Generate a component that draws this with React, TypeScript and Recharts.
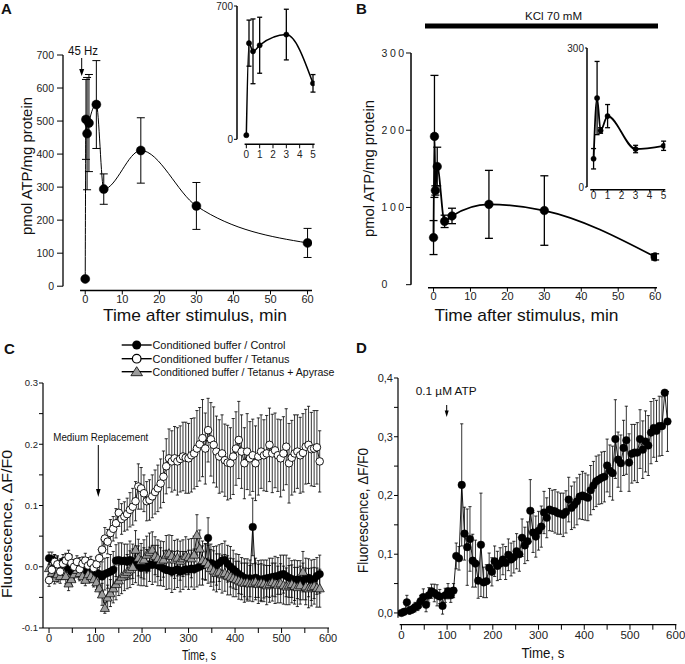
import React from "react";
import { LineChart, Line, XAxis, YAxis, ErrorBar, ReferenceLine } from "recharts";

const SANS = "'Liberation Sans', Arial, Helvetica, sans-serif";
const NARROW = "'Liberation Sans Narrow', 'Arial Narrow', 'Liberation Sans', sans-serif";

// ---- panel A: 45 Hz stimulation ----
const minutesA = [0, 0.2, 0.5, 1, 3, 5, 15, 30, 60];
const atpTetanus = [22, 505, 462, 494, 550, 294, 411, 243, 131];
const atpTetanusSem = [0, 121, 170, 147, 133, 46, 99, 71, 44];

// ---- panel B: KCl 70 mM ----
const minutesB = [0, 0.25, 0.5, 1, 3, 5, 15, 30, 60];
const atpKcl = [61, 192, 122, 153, 82, 89, 104, 96, 36];
const atpKclSem = [22, 79, 6, 25, 8, 10, 44, 45, 4];

const ticksA = [0, 100, 200, 300, 400, 500, 600, 700];
const ticksB = [0, 100, 200, 300];
const minuteTicks = [0, 10, 20, 30, 40, 50, 60];
const insetTicks = [0, 1, 2, 3, 4, 5];

// ---- panel C: conditioned buffer, sampled every 6 s ----
const SAMPLE_S = 6;
const control = [
  0.014, 0.012, 0.009, 0.005, 0.003, 0.008, -0.002, 0.002, -0.008, -0.010,
  -0.004, 0.003, -0.002, -0.006, 0.000, -0.004, -0.008, -0.010, -0.012, -0.016,
  -0.012, -0.010, -0.008, -0.005, 0.010, 0.011, 0.009, 0.010, 0.008, 0.011,
  0.009, 0.004, 0.002, -0.002, 0.000, -0.002, 0.004, 0.003, 0.005, 0.002,
  0.000, -0.003, -0.005, -0.006, -0.008, -0.006, -0.004, -0.008, -0.006, -0.004,
  -0.005, -0.003, -0.004, -0.002, 0.000, 0.002, 0.008, 0.047, 0.006, 0.004,
  0.002, 0.006, 0.010, 0.011, 0.005, 0.000, -0.004, -0.008, -0.012, -0.015,
  -0.018, -0.020, -0.019, 0.065, -0.018, -0.020, -0.022, -0.020, -0.019, -0.018,
  -0.017, -0.016, -0.015, -0.013, -0.012, -0.015, -0.018, -0.020, -0.022, -0.021,
  -0.022, -0.024, -0.020, -0.018, -0.022, -0.020, -0.015, -0.012,
];
const controlSem = [
  0.010, 0.012, 0.011, 0.013, 0.010, 0.012, 0.014, 0.011, 0.012, 0.013,
  0.010, 0.012, 0.011, 0.013, 0.012, 0.010, 0.014, 0.012, 0.020, 0.024,
  0.026, 0.025, 0.028, 0.030, 0.026, 0.028, 0.030, 0.027, 0.029, 0.031,
  0.028, 0.030, 0.032, 0.029, 0.031, 0.030, 0.028, 0.032, 0.030, 0.033,
  0.031, 0.029, 0.032, 0.030, 0.034, 0.031, 0.030, 0.033, 0.031, 0.029,
  0.032, 0.030, 0.033, 0.031, 0.030, 0.032, 0.030, 0.033, 0.031, 0.029,
  0.032, 0.030, 0.028, 0.031, 0.030, 0.033, 0.031, 0.029, 0.032, 0.030,
  0.031, 0.033, 0.030, 0.047, 0.032, 0.030, 0.033, 0.031, 0.030, 0.032,
  0.031, 0.033, 0.030, 0.032, 0.031, 0.034, 0.032, 0.030, 0.033, 0.031,
  0.032, 0.030, 0.034, 0.031, 0.033, 0.032, 0.030, 0.031,
];
const tetanus = [
  -0.022, -0.005, 0.008, 0.004, -0.008, 0.005, 0.010, 0.016, 0.006, 0.000,
  0.008, -0.004, 0.005, 0.010, 0.002, 0.006, -0.002, 0.004, 0.014, 0.028,
  0.046, 0.041, 0.055, 0.062, 0.071, 0.088, 0.078, 0.082, 0.086, 0.093,
  0.098, 0.107, 0.131, 0.128, 0.120, 0.107, 0.109, 0.115, 0.122, 0.128,
  0.136, 0.147, 0.164, 0.177, 0.172, 0.177, 0.172, 0.176, 0.180, 0.178,
  0.177, 0.182, 0.185, 0.193, 0.200, 0.210, 0.193, 0.223, 0.208, 0.199,
  0.188, 0.180, 0.185, 0.174, 0.170, 0.169, 0.180, 0.193, 0.207, 0.188,
  0.169, 0.188, 0.177, 0.182, 0.169, 0.180, 0.188, 0.182, 0.185, 0.199,
  0.185, 0.190, 0.182, 0.177, 0.185, 0.196, 0.169, 0.178, 0.185, 0.188,
  0.182, 0.186, 0.196, 0.199, 0.192, 0.193, 0.195, 0.172,
];
const tetanusSem = [
  0.010, 0.012, 0.011, 0.012, 0.013, 0.010, 0.012, 0.011, 0.013, 0.012,
  0.010, 0.012, 0.011, 0.012, 0.013, 0.011, 0.012, 0.012, 0.014, 0.016,
  0.018, 0.020, 0.022, 0.020, 0.024, 0.022, 0.025, 0.024, 0.026, 0.028,
  0.030, 0.032, 0.037, 0.034, 0.030, 0.032, 0.033, 0.035, 0.036, 0.038,
  0.040, 0.042, 0.045, 0.048, 0.050, 0.052, 0.055, 0.054, 0.056, 0.058,
  0.057, 0.060, 0.058, 0.062, 0.060, 0.063, 0.058, 0.052, 0.060, 0.062,
  0.058, 0.060, 0.063, 0.059, 0.061, 0.058, 0.062, 0.060, 0.063, 0.060,
  0.058, 0.062, 0.060, 0.059, 0.061, 0.063, 0.060, 0.058, 0.062, 0.060,
  0.064, 0.061, 0.059, 0.063, 0.060, 0.062, 0.065, 0.061, 0.063, 0.060,
  0.062, 0.064, 0.061, 0.063, 0.060, 0.062, 0.060, 0.050,
];
const apyrase = [
  -0.002, -0.010, -0.018, -0.012, -0.015, -0.008, -0.015, -0.027, -0.020, -0.012,
  -0.005, -0.010, -0.015, -0.021, -0.012, -0.015, -0.020, -0.025, -0.035, -0.045,
  -0.067, -0.050, -0.043, -0.035, -0.028, -0.022, -0.016, -0.012, -0.008, -0.004,
  0.000, 0.028, 0.015, 0.010, 0.012, 0.020, 0.024, 0.028, 0.018, 0.014,
  0.010, 0.012, 0.020, 0.022, 0.018, 0.012, 0.015, 0.010, 0.014, 0.018,
  0.016, 0.014, 0.020, 0.052, 0.030, 0.011, 0.008, 0.004, -0.002, -0.006,
  -0.010, -0.008, -0.012, -0.010, -0.014, -0.016, -0.018, -0.020, -0.022, -0.024,
  -0.026, -0.025, -0.027, -0.026, -0.024, -0.028, -0.026, -0.027, -0.030, -0.028,
  -0.025, -0.027, -0.029, -0.027, -0.030, -0.032, -0.030, -0.028, -0.031, -0.033,
  -0.030, -0.008, -0.032, -0.035, -0.033, -0.031, -0.034, -0.035,
];
const apyraseSem = [
  0.011, 0.012, 0.010, 0.013, 0.012, 0.011, 0.013, 0.012, 0.010, 0.012,
  0.011, 0.013, 0.012, 0.010, 0.012, 0.011, 0.013, 0.012, 0.015, 0.018,
  0.009, 0.020, 0.022, 0.024, 0.026, 0.025, 0.028, 0.027, 0.028, 0.030,
  0.029, 0.031, 0.030, 0.028, 0.032, 0.030, 0.031, 0.029, 0.031, 0.030,
  0.032, 0.029, 0.031, 0.030, 0.033, 0.031, 0.030, 0.032, 0.030, 0.031,
  0.029, 0.032, 0.030, 0.033, 0.030, 0.031, 0.029, 0.031, 0.030, 0.032,
  0.031, 0.029, 0.031, 0.030, 0.032, 0.030, 0.031, 0.029, 0.031, 0.030,
  0.032, 0.031, 0.029, 0.031, 0.030, 0.032, 0.031, 0.030, 0.032, 0.030,
  0.031, 0.033, 0.030, 0.032, 0.031, 0.030, 0.032, 0.031, 0.030, 0.032,
  0.031, 0.033, 0.030, 0.032, 0.031, 0.030, 0.032, 0.031,
];

// ---- panel D: 0.1 uM ATP ----
const atpResponse = [
  0.000, 0.002, 0.018, 0.004, 0.006, 0.010, 0.012, 0.020, 0.027, 0.014,
  0.030, 0.037, 0.034, 0.030, 0.028, 0.012, 0.030, 0.037, 0.030, 0.038,
  0.097, 0.093, 0.218, 0.135, 0.112, 0.126, 0.089, 0.084, 0.055, 0.116,
  0.052, 0.054, 0.077, 0.070, 0.088, 0.080, 0.084, 0.091, 0.085, 0.099,
  0.091, 0.095, 0.105, 0.100, 0.128, 0.115, 0.122, 0.174, 0.137, 0.130,
  0.140, 0.147, 0.171, 0.162, 0.176, 0.174, 0.173, 0.170, 0.169, 0.167,
  0.172, 0.193, 0.179, 0.184, 0.190, 0.198, 0.200, 0.198, 0.196, 0.209,
  0.217, 0.224, 0.227, 0.230, 0.232, 0.251, 0.242, 0.238, 0.296, 0.261,
  0.255, 0.281, 0.294, 0.256, 0.271, 0.273, 0.273, 0.296, 0.278, 0.292,
  0.285, 0.307, 0.315, 0.310, 0.318, 0.318, 0.375, 0.326,
];
const atpResponseSem = [
  0.004, 0.005, 0.012, 0.006, 0.006, 0.008, 0.008, 0.010, 0.014, 0.012,
  0.013, 0.012, 0.015, 0.018, 0.012, 0.014, 0.012, 0.013, 0.012, 0.012,
  0.022, 0.020, 0.104, 0.045, 0.065, 0.055, 0.045, 0.040, 0.030, 0.088,
  0.026, 0.028, 0.025, 0.024, 0.026, 0.025, 0.027, 0.026, 0.028, 0.027,
  0.028, 0.027, 0.030, 0.029, 0.032, 0.031, 0.033, 0.053, 0.034, 0.035,
  0.033, 0.035, 0.036, 0.034, 0.036, 0.035, 0.037, 0.036, 0.035, 0.037,
  0.036, 0.038, 0.037, 0.039, 0.040, 0.038, 0.041, 0.040, 0.039, 0.042,
  0.041, 0.043, 0.042, 0.044, 0.043, 0.045, 0.044, 0.046, 0.067, 0.047,
  0.048, 0.047, 0.058, 0.049, 0.050, 0.048, 0.051, 0.050, 0.049, 0.052,
  0.051, 0.053, 0.050, 0.052, 0.051, 0.050, 0.005, 0.051,
];

const secondTicks = [0, 50, 100, 150, 200, 250, 300, 350, 400, 450, 500, 550, 600];
const ticksC = [-0.1, -0.05, 0, 0.05, 0.1, 0.15, 0.2, 0.25, 0.3];
const ticksD = [0, 0.05, 0.1, 0.15, 0.2, 0.25, 0.3, 0.35, 0.4];
const legendLabels = [
  "Conditioned buffer / Control",
  "Conditioned buffer / Tetanus",
  "Conditioned buffer / Tetanus + Apyrase",
];

const dataA = minutesA.map((t, i) => ({ t, v: atpTetanus[i], e: atpTetanusSem[i] }));
const dataB = minutesB.map((t, i) => ({ t, v: atpKcl[i], e: atpKclSem[i] }));
const seconds = control.map((_, i) => i * SAMPLE_S);
const dataC = seconds.map((t, i) => ({
  t,
  ctrl: control[i], ctrlE: controlSem[i],
  tet: tetanus[i], tetE: tetanusSem[i],
  apy: apyrase[i], apyE: apyraseSem[i],
}));
const dataD = seconds.map((t, i) => ({ t, v: atpResponse[i], e: atpResponseSem[i] }));

const hundreds = (v: number) => (v % 100 === 0 ? String(v) : "");
const tenthsDot = (v: number) =>
  Math.abs(v * 10 - Math.round(v * 10)) < 1e-6 ? v.toFixed(1) : "";
const tenthsComma = (v: number) =>
  Math.abs(v * 10 - Math.round(v * 10)) < 1e-6 ? v.toFixed(1).replace(".", ",") : "";

const Triangle = (p: any) => {
  const { cx, cy } = p;
  if (cx == null || cy == null) return <g key={`tri-${p.index}`} />;
  const s = 4.6;
  return (
    <path
      key={`tri-${p.index}`}
      d={`M${cx},${cy - s} L${cx + s},${cy + s * 0.8} L${cx - s},${cy + s * 0.8} Z`}
      fill="#9c9c9c"
      stroke="#000"
      strokeWidth={0.7}
    />
  );
};

const spacedTick = (p: any) => (
  <text x={p.x - 22.5} y={p.y} dy={3.8} textAnchor="start" fontSize={10.5} letterSpacing={2.6} fill="#222" fontFamily={SANS}>
    {p.payload.value}
  </text>
);

type FrameProps = {
  left: number; top: number; w: number; h: number;
  data: any[];
  xDomain: [number, number]; yDomain: [number, number];
  xTicks: number[]; yTicks: number[];
  xLine: [number, number]; yLine: [number, number];
  xTick: any; yTick: any;
  xFmt?: (v: number) => string; yFmt?: (v: number) => string;
  xSize: number; xMargin: number; ySize: number; yMargin: number;
  axisWidth?: number;
  children: React.ReactNode;
};

function Frame(p: FrameProps) {
  const pad = 60;
  const sw = p.axisWidth ?? 1.3;
  return (
    <div style={{ position: "absolute", left: p.left - pad, top: p.top - 10 }}>
      <LineChart width={p.w + pad + 10} height={p.h + 50} data={p.data} margin={{ top: 10, right: 10, bottom: 0, left: 0 }}>
        <XAxis
          type="number" dataKey="t" domain={p.xDomain} allowDataOverflow ticks={p.xTicks} interval={0}
          axisLine={false} tickLine={{ stroke: "#000", strokeWidth: 1 }} tickSize={p.xSize} tickMargin={p.xMargin}
          tick={p.xTick} tickFormatter={p.xFmt} height={40}
        />
        <YAxis
          type="number" domain={p.yDomain} allowDataOverflow ticks={p.yTicks} interval={0}
          axisLine={false} tickLine={{ stroke: "#000", strokeWidth: 1 }} tickSize={p.ySize} tickMargin={p.yMargin}
          tick={p.yTick} tickFormatter={p.yFmt} width={pad}
        />
        <ReferenceLine
          segment={[{ x: p.xLine[0], y: p.yDomain[0] }, { x: p.xLine[1], y: p.yDomain[0] }]}
          stroke="#000" strokeWidth={sw} ifOverflow="visible"
        />
        <ReferenceLine
          segment={[{ x: p.xDomain[0], y: p.yLine[0] }, { x: p.xDomain[0], y: p.yLine[1] }]}
          stroke="#000" strokeWidth={sw} ifOverflow="visible"
        />
        {p.children}
      </LineChart>
    </div>
  );
}

const tickSans = (size: number) => ({ fontSize: size, fill: "#222", fontFamily: SANS });
const tickNarrow = (size: number) => ({ fontSize: size, fill: "#222", fontFamily: NARROW });

export default function App() {
  return (
    <div style={{ position: "absolute", left: 0, top: 0, width: 685, height: 664, background: "#fff", overflow: "hidden" }}>
      {/* A main */}
      <Frame
        left={63} top={54.5} w={249} h={235.5} data={dataA}
        xDomain={[-6, 61.2]} yDomain={[-13, 700]} xTicks={minuteTicks} yTicks={ticksA}
        xLine={[-1.4, 61.2]} yLine={[0, 700]}
        xTick={tickSans(11)} yTick={tickSans(10.5)} xSize={4} xMargin={1} ySize={6} yMargin={3}
      >
        <Line dataKey="v" type="monotone" stroke="#000" strokeWidth={1} dot={{ r: 4.5, fill: "#000", stroke: "#000", strokeWidth: 0.5 }} isAnimationActive={false}>
          <ErrorBar dataKey="e" width={4} stroke="#000" strokeWidth={1} direction="y" isAnimationActive={false} />
        </Line>
      </Frame>
      {/* A inset */}
      <Frame
        left={237.3} top={5.7} w={77.6} h={138.3} data={dataA.filter((d) => d.t <= 5)}
        xDomain={[-0.7, 5.12]} yDomain={[-26, 700]} xTicks={insetTicks} yTicks={[0, 700]}
        xLine={[-0.13, 5.12]} yLine={[0, 700]} axisWidth={1.5}
        xTick={tickSans(10)} yTick={tickSans(10)} xSize={4} xMargin={3} ySize={3} yMargin={1}
      >
        <Line dataKey="v" type="monotone" stroke="#000" strokeWidth={1.5} dot={{ r: 2.6, fill: "#000", stroke: "#000", strokeWidth: 0.5 }} isAnimationActive={false}>
          <ErrorBar dataKey="e" width={2.5} stroke="#000" strokeWidth={1.3} direction="y" isAnimationActive={false} />
        </Line>
      </Frame>
      {/* B main */}
      <Frame
        left={410.7} top={53.3} w={246} h={234.7} data={dataB}
        xDomain={[-6.1, 60.5]} yDomain={[-3.9, 300]} xTicks={minuteTicks} yTicks={ticksB}
        xLine={[-1.5, 60.5]} yLine={[0, 300]} axisWidth={1.5}
        xTick={tickSans(11)} yTick={spacedTick} xSize={4} xMargin={1} ySize={5} yMargin={2}
      >
        <Line dataKey="v" type="monotone" stroke="#000" strokeWidth={1.8} dot={{ r: 4.3, fill: "#000", stroke: "#000", strokeWidth: 0.5 }} isAnimationActive={false}>
          <ErrorBar dataKey="e" width={4} stroke="#000" strokeWidth={1.3} direction="y" isAnimationActive={false} />
        </Line>
      </Frame>
      {/* B inset */}
      <Frame
        left={586.7} top={47.7} w={78.3} h={141.8} data={dataB.filter((d) => d.t <= 5)}
        xDomain={[-0.47, 5.12]} yDomain={[-6, 300]} xTicks={insetTicks} yTicks={[0, 300]}
        xLine={[-0.24, 5.12]} yLine={[0, 300]} axisWidth={1.5}
        xTick={tickSans(10)} yTick={tickSans(10)} xSize={2} xMargin={0} ySize={2} yMargin={1}
      >
        <Line dataKey="v" type="monotone" stroke="#000" strokeWidth={1.8} dot={{ r: 2.6, fill: "#000", stroke: "#000", strokeWidth: 0.5 }} isAnimationActive={false}>
          <ErrorBar dataKey="e" width={2.5} stroke="#000" strokeWidth={1.3} direction="y" isAnimationActive={false} />
        </Line>
      </Frame>
      {/* C */}
      <Frame
        left={43.3} top={383.3} w={286} h={245} data={dataC}
        xDomain={[-13, 602]} yDomain={[-0.1, 0.3]} xTicks={secondTicks} yTicks={ticksC}
        xLine={[-13, 602]} yLine={[-0.1, 0.3]} axisWidth={1.2}
        xTick={tickNarrow(11)} yTick={tickNarrow(9.5)} xFmt={hundreds} yFmt={tenthsDot}
        xSize={5} xMargin={1} ySize={4} yMargin={1}
      >
        <Line dataKey="ctrl" type="linear" stroke="#000" strokeWidth={0.9} dot={{ r: 3.8, fill: "#000", stroke: "#000", strokeWidth: 0.5 }} isAnimationActive={false}>
          <ErrorBar dataKey="ctrlE" width={1.6} stroke="#000" strokeWidth={0.8} direction="y" isAnimationActive={false} />
        </Line>
        <Line dataKey="apy" type="linear" stroke="#000" strokeWidth={0.9} dot={(p: any) => <Triangle key={`tri-${p.index}`} {...p} />} isAnimationActive={false}>
          <ErrorBar dataKey="apyE" width={1.6} stroke="#000" strokeWidth={0.8} direction="y" isAnimationActive={false} />
        </Line>
        <Line dataKey="tet" type="linear" stroke="#000" strokeWidth={0.9} dot={{ r: 3.8, fill: "#fff", stroke: "#000", strokeWidth: 0.9 }} isAnimationActive={false}>
          <ErrorBar dataKey="tetE" width={1.6} stroke="#000" strokeWidth={0.8} direction="y" isAnimationActive={false} />
        </Line>
      </Frame>
      {/* D */}
      <Frame
        left={398.3} top={378.3} w={278.4} h={246.7} data={dataD}
        xDomain={[-7.4, 601.5]} yDomain={[-0.02, 0.4]} xTicks={secondTicks} yTicks={ticksD}
        xLine={[-3.7, 601.5]} yLine={[-0.008, 0.4]} axisWidth={1.2}
        xTick={tickNarrow(11.5)} yTick={tickSans(11)} xFmt={hundreds} yFmt={tenthsComma}
        xSize={5} xMargin={1} ySize={4} yMargin={1}
      >
        <Line dataKey="v" type="linear" stroke="#000" strokeWidth={0.9} dot={{ r: 3.8, fill: "#000", stroke: "#000", strokeWidth: 0.5 }} isAnimationActive={false}>
          <ErrorBar dataKey="e" width={1.6} stroke="#000" strokeWidth={0.8} direction="y" isAnimationActive={false} />
        </Line>
      </Frame>

      {/* titles, annotations, legend */}
      <svg width={685} height={664} style={{ position: "absolute", left: 0, top: 0, pointerEvents: "none" }} fontFamily={SANS} fill="#111">
        <text x={1} y={14} fontSize={15} fontWeight="bold">A</text>
        <text x={356} y={14} fontSize={15} fontWeight="bold">B</text>
        <text x={4} y={354} fontSize={15} fontWeight="bold">C</text>
        <text x={356} y={353} fontSize={15} fontWeight="bold">D</text>

        <text x={68} y={55} fontSize={12} textLength={30} lengthAdjust="spacingAndGlyphs">45 Hz</text>
        <line x1={81.7} y1={58} x2={81.7} y2={70} stroke="#000" strokeWidth={1} />
        <path d="M79.2,69 L84.2,69 L81.7,76 Z" fill="#000" />
        <text x={195} y={321} textAnchor="middle" fontSize={17} textLength={184} lengthAdjust="spacingAndGlyphs">Time after stimulus, min</text>
        <text transform="translate(26.5,166) rotate(-90)" textAnchor="middle" dominantBaseline="central" fontSize={14.5} textLength={138} lengthAdjust="spacingAndGlyphs">pmol ATP/mg protein</text>

        <text x={553.5} y={20} textAnchor="middle" fontSize={11} textLength={57} lengthAdjust="spacingAndGlyphs">KCl 70 mM</text>
        <rect x={425} y={23.5} width={233} height={5} fill="#000" />
        <text x={526.5} y={321} textAnchor="middle" fontSize={17} textLength={184} lengthAdjust="spacingAndGlyphs">Time after stimulus, min</text>
        <text transform="translate(369,168.5) rotate(-90)" textAnchor="middle" dominantBaseline="central" fontSize={14.5} textLength={137} lengthAdjust="spacingAndGlyphs">pmol ATP/mg protein</text>

        {legendLabels.map((label, i) => {
          const y = [345, 358.7, 371.7][i];
          return (
            <g key={label}>
              <line x1={121.7} y1={y} x2={151.7} y2={y} stroke="#000" strokeWidth={1.4} />
              {i === 0 && <circle cx={136.7} cy={y} r={4.5} fill="#000" />}
              {i === 1 && <circle cx={136.7} cy={y} r={4.3} fill="#fff" stroke="#000" strokeWidth={1.2} />}
              {i === 2 && <path d={`M136.7,${y - 5} L142.5,${y + 4} L130.9,${y + 4} Z`} fill="#9c9c9c" stroke="#000" strokeWidth={0.8} />}
              <text x={152.5} y={y + 4} fontSize={11.5} textLength={[133, 137, 182][i]} lengthAdjust="spacingAndGlyphs">{label}</text>
            </g>
          );
        })}
        <text x={53.3} y={441} fontSize={11.5} textLength={95} lengthAdjust="spacingAndGlyphs">Medium Replacement</text>
        <line x1={98.3} y1={445} x2={98.3} y2={490} stroke="#000" strokeWidth={1} />
        <path d="M96,489 L100.6,489 L98.3,497 Z" fill="#000" />
        <text x={199} y={660} textAnchor="middle" fontSize={14} textLength={34} lengthAdjust="spacingAndGlyphs">Time, s</text>
        <text transform="translate(6.5,524) rotate(-90)" textAnchor="middle" dominantBaseline="central" fontSize={14.5} textLength={148} lengthAdjust="spacingAndGlyphs">Fluorescence, ΔF/F0</text>

        <text x={415.7} y={395} fontSize={11.5} textLength={61} lengthAdjust="spacingAndGlyphs">0.1 µM ATP</text>
        <line x1={446.7} y1={405} x2={446.7} y2={411} stroke="#000" strokeWidth={1} />
        <path d="M444.7,410.5 L448.7,410.5 L446.7,417 Z" fill="#000" />
        <text x={543} y={658} textAnchor="middle" fontSize={14} textLength={43} lengthAdjust="spacingAndGlyphs">Time, s</text>
        <text transform="translate(362.5,510.5) rotate(-90)" textAnchor="middle" dominantBaseline="central" fontSize={14} textLength={125} lengthAdjust="spacingAndGlyphs">Fluorescence, ΔF/F0</text>
      </svg>
    </div>
  );
}
